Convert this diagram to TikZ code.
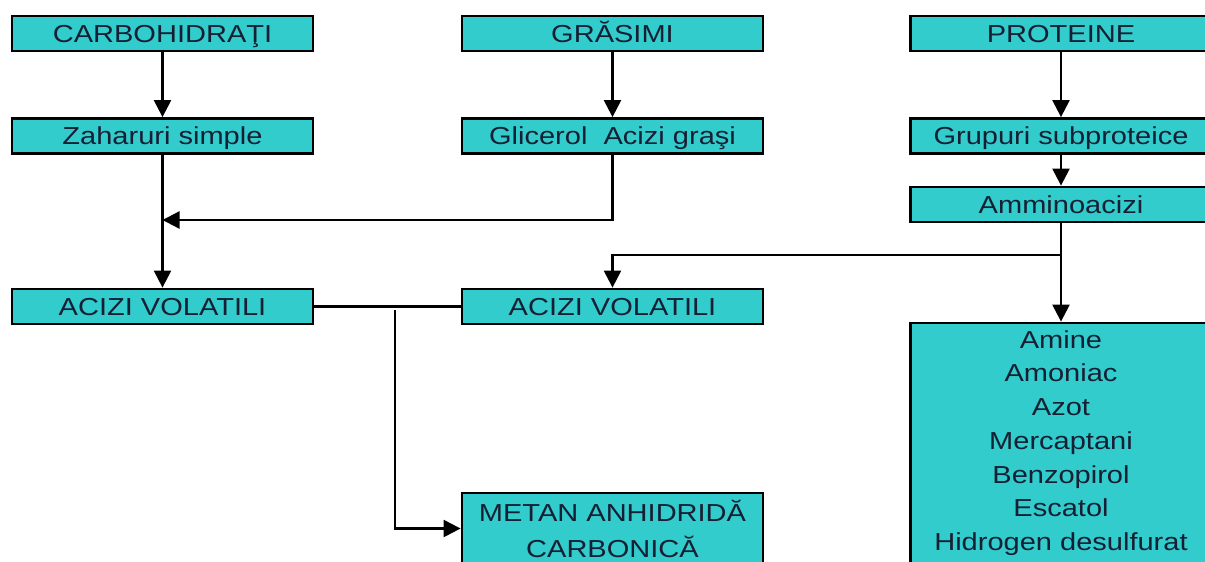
\documentclass[tikz,border=0pt]{standalone}
\usepackage{fontspec}
\setmainfont{Liberation Sans}[FakeStretch=1.18]
\usetikzlibrary{arrows.meta,positioning,calc}

\definecolor{turq}{RGB}{51,204,204}
\definecolor{inkblue}{RGB}{22,32,52}

\begin{document}
\begin{tikzpicture}[
    box/.style={rectangle, draw=black, line width=1.6pt, fill=turq, minimum width=6.02cm, minimum height=0.7cm, inner sep=0pt, text=inkblue, font=\fontsize{14}{19.2}\selectfont, text height=10pt, text depth=0pt},
    tallbox/.style={rectangle, draw=black, line width=1.6pt, fill=turq, minimum width=6.02cm, inner sep=0pt, text=inkblue, align=center},
    arrow/.style={draw, black, line width=1.3pt, -{Triangle[length=0.34cm,width=0.34cm]}},
    link/.style={draw, black, line width=1.3pt}
]
\useasboundingbox (0,0) rectangle (24.1,-11.22);

% Column positions
\def\colone{3.25}
\def\coltwo{12.25}
\def\colthree{21.22}

% Top row
\node[box] (carbo) at (\colone, -0.67) {CARBOHIDRAŢI};
\node[box] (grasimi) at (\coltwo, -0.67) {GRĂSIMI};
\node[box] (proteine) at (\colthree, -0.67) {PROTEINE};

% Second row
\node[box] (zahar) at (\colone, -2.72) {Zaharuri simple};
\node[box] (glicerol) at (\coltwo, -2.72) {Glicerol\ \ Acizi graşi};
\node[box] (grupuri) at (\colthree, -2.72) {Grupuri subproteice};
\node[box] (amino) at (\colthree, -4.09) {Amminoacizi};

% Volatile acids
\node[box] (acizi1) at (\colone, -6.13) {ACIZI VOLATILI};
\node[box] (acizi2) at (\coltwo, -6.13) {ACIZI VOLATILI};

% End products
\node[tallbox, minimum height=1.42cm, font=\fontsize{14}{20.4}\selectfont] (metan) at (\coltwo, -10.57) {METAN ANHIDRIDĂ\\CARBONICĂ};
\node[tallbox, minimum height=4.8cm, font=\fontsize{14}{19.2}\selectfont] (amine) at (\colthree, -8.86) {Amine\\Amoniac\\Azot\\Mercaptani\\Benzopirol\\Escatol\\Hidrogen desulfurat};

% Junction points
\coordinate (j1) at (\colone, -4.4);
\coordinate (j2) at (\colthree, -5.1);
\coordinate (j3) at (7.9, -6.2);

% Vertical arrows
\foreach \a/\b in {carbo/zahar, grasimi/glicerol, proteine/grupuri, grupuri/amino, zahar/acizi1, amino/amine} {
    \draw[arrow] (\a) -- (\b);
}

% Branches
\draw[arrow] (glicerol.south) |- (j1);
\draw[arrow] (j2) -| (acizi2.north);
\draw[link] (acizi1.east) -- (acizi2.west);
\draw[arrow] (j3) |- (metan.west);

\end{tikzpicture}
\end{document}
